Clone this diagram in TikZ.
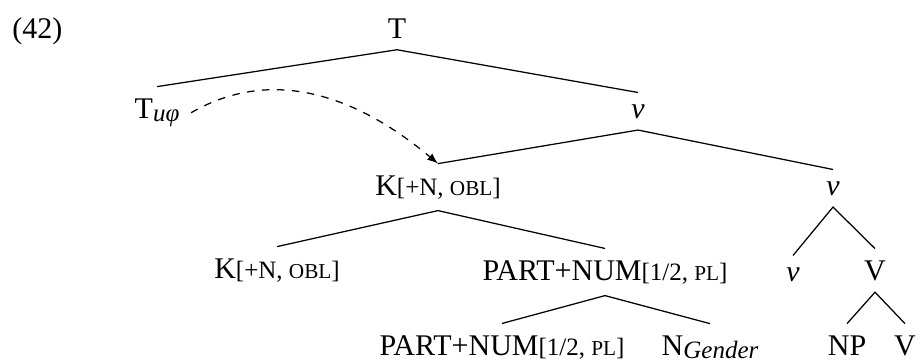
\documentclass[tikz,border=0pt,12pt]{standalone}
\usepackage{fontspec}
\setmainfont{Liberation Serif}
\usetikzlibrary{arrows,positioning}

\newcommand{\ftr}[1]{{\footnotesize #1}}
\newcommand{\smc}[1]{{\fontsize{8.5}{10}\selectfont #1}}
\newcommand{\lsub}[1]{\raisebox{-1.5pt}{\footnotesize\itshape #1}}

\begin{document}
\begin{tikzpicture}[x=0.4pt,y=-0.4pt,
    lbl/.style={anchor=base,inner sep=4.5pt},
    branch/.style={line width=0.5pt}]
            \useasboundingbox (0,0) rectangle (924,362);

            \node[anchor=base west,inner sep=0pt] (ex) at (12,38) {(42)};

            \node[lbl] (T) at (397,38) {T};
            \node[lbl] (Tu) at (157,118) {T\lsub{uφ}};
            \node[lbl] (v1) at (638,118) {\textit{v}};
            \node[lbl] (Kmid) at (438,195) {K\ftr{[+N, \smc{OBL}]}};
            \node[lbl] (v2) at (833,195) {\textit{v}};
            \node[lbl] (Kleft) at (277,278) {K\ftr{[+N, \smc{OBL}]}};
            \node[lbl] (PNmid) at (605,280) {PART+NUM\ftr{[1/2, \smc{PL}]}};
            \node[lbl] (v3) at (793,281) {\textit{v}};
            \node[lbl] (Vmid) at (875,280) {V};
            \node[lbl] (PNlow) at (502,355) {PART+NUM\ftr{[1/2, \smc{PL}]}};
            \node[lbl] (Ngen) at (710,355) {N\lsub{Gender}};
            \node[lbl] (NP) at (847,355) {NP};
            \node[lbl] (Vlow) at (905,355) {V};

            \draw[branch] (Tu.north) -- (T.south) -- (v1.north);
            \draw[branch] (Kmid.north) -- (v1.south) -- (v2.north);
            \draw[branch] (Kleft.north) -- (Kmid.south) -- (PNmid.north);
            \draw[branch] (PNlow.north) -- (PNmid.south) -- (Ngen.north);
            \draw[branch] (v3.north) -- (v2.south) -- (Vmid.north);
            \draw[branch] (NP.north) -- (Vmid.south) -- (Vlow.north);

            \draw[branch,dashed,-latex] (Tu.east) to[out=30,in=140] (Kmid.north);
          \end{tikzpicture}
\end{document}
